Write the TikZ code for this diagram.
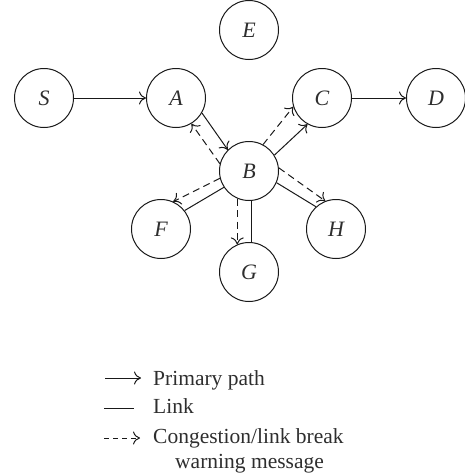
\documentclass[tikz,border=0pt]{standalone}
\usepackage{fontspec}
\setmainfont{Liberation Serif}
\usetikzlibrary{arrows.meta}
\begin{document}
\begin{tikzpicture}[x=1pt,y=-1pt,
  every node/.style={font=\fontsize{21.5}{25}\selectfont,text=black!82},
  station/.style={draw=black!90,circle,minimum size=59pt,inner sep=0pt,line width=1pt,font=\fontsize{22}{25}\selectfont\itshape},
  conn/.style={line width=1pt,draw=black!90},
  arr/.style={conn,-{To[length=7pt,width=13pt]}},
  warn/.style={arr,dash pattern=on 7pt off 4.5pt},
  legtext/.style={anchor=base west,inner sep=0pt}]
\useasboundingbox (0,0) rectangle (465,475);
\node[station] (S) at (44,98) {S};
\node[station] (A) at (176,98) {A};
\node[station] (E) at (249,30) {E};
\node[station] (C) at (322,98) {C};
\node[station] (D) at (436,98) {D};
\node[station] (B) at (249,171) {B};
\node[station] (F) at (161,229) {F};
\node[station] (G) at (249,272) {G};
\node[station] (H) at (336,229) {H};
% primary path
\draw[arr] (S) -- (A);
\draw[arr] (A.-30) -- (B.135);
\draw[arr] (B.32) -- (C.-119);
\draw[arr] (C) -- (D);
% links
\draw[conn] (B.213) -- (F.38);
\draw[conn] (B.-86) -- (G.86);
\draw[conn] (B.-23) -- (H.132);
% warnings
\draw[warn] (B.166) -- (A.-59);
\draw[warn] (B.62) -- (C.-163);
\draw[warn] (B.194) -- (F.66);
\draw[warn] (B.-113) -- (G.113);
\draw[warn] (B.6) -- (H.111);
% legend
\coordinate (l1a) at (105,378); \coordinate (l1b) at (141,378);
\coordinate (l2a) at (104,408); \coordinate (l2b) at (134,408);
\coordinate (l3a) at (104,438); \coordinate (l3b) at (140,438);
\draw[arr] (l1a) -- (l1b);
\draw[conn] (l2a) -- (l2b);
\draw[arr,dash pattern=on 5pt off 4pt] (l3a) -- (l3b);
\node[legtext] (t1) at (153,385) {Primary path};
\node[legtext] (t2) at (153,413) {Link};
\node[legtext] (t3) at (153,443) {Congestion/link break};
\node[legtext] (t4) at (175,468) {warning message};
\end{tikzpicture}
\end{document}
